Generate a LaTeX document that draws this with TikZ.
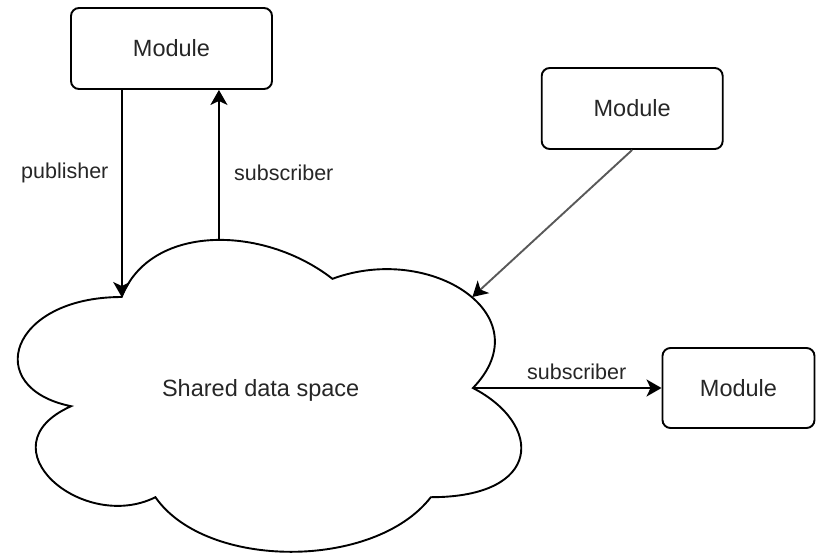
\documentclass[tikz,border=0pt]{standalone}
\usepackage{fontspec}
\setmainfont{Liberation Sans}
\usetikzlibrary{arrows.meta}

\tikzset{
  module/.style={draw, rounded corners=8pt, line width=1.9pt, inner sep=0pt,
    font=\fontsize{23.5}{28}\selectfont, text=black!85},
  flow/.style={line width=1.9pt, -{Stealth[length=15pt,width=17pt,inset=4pt,color=black]}},
  lbl/.style={font=\fontsize{21.5}{26}\selectfont, text=black!85},
}

\begin{document}
\begin{tikzpicture}[x=1pt,y=-1pt]
  \useasboundingbox (0,0) rectangle (816,552);
  % the cloud, drawn in a unit box
  \begin{scope}[shift={(-18.8,206)},x=562pt,y=-364pt]
    \draw[line width=1.9pt] (0.25,0.25)
      .. controls (0.05,0.25) and (0,0.5) .. (0.16,0.55)
      .. controls (0,0.66) and (0.18,0.9) .. (0.31,0.8)
      .. controls (0.4,1) and (0.7,1) .. (0.8,0.8)
      .. controls (1,0.8) and (1,0.6) .. (0.875,0.5)
      .. controls (1,0.3) and (0.8,0.1) .. (0.625,0.2)
      .. controls (0.5,0.05) and (0.3,0.05) .. (0.25,0.25) -- cycle;
    \coordinate (pub) at (0.25,0.25);
    \coordinate (sub) at (0.423,0.093);
    \coordinate (ne) at (0.874,0.25);
    \coordinate (east) at (0.875,0.5);
  \end{scope}
  \node[font=\fontsize{23.5}{28}\selectfont, text=black!85, anchor=base] (space) at (260.7,396.7) {Shared data space};

  % modules
  \node[module, minimum width=201pt, minimum height=81pt] (modA) at (171.5,48.5) {Module};
  \node[module, minimum width=181pt, minimum height=81pt] (modB) at (632.2,108.5) {Module};
  \node[module, minimum width=152pt, minimum height=80pt] (modC) at (738.5,388) {Module};

  % connectors
  \draw[flow] (modA.south -| pub) -- node[lbl, pos=0.4, left=9pt] (pubLbl) {publisher} (pub);
  \draw[flow] (sub) -- node[lbl, pos=0.45, right=11pt] (subLbl) {subscriber} (sub |- modA.south);
  \draw[flow, draw=black!65] (modB.south) -- (ne);
  \draw[flow] (east) -- node[lbl, pos=0.55, above=4pt] (eastLbl) {subscriber} (modC.west);
\end{tikzpicture}
\end{document}
